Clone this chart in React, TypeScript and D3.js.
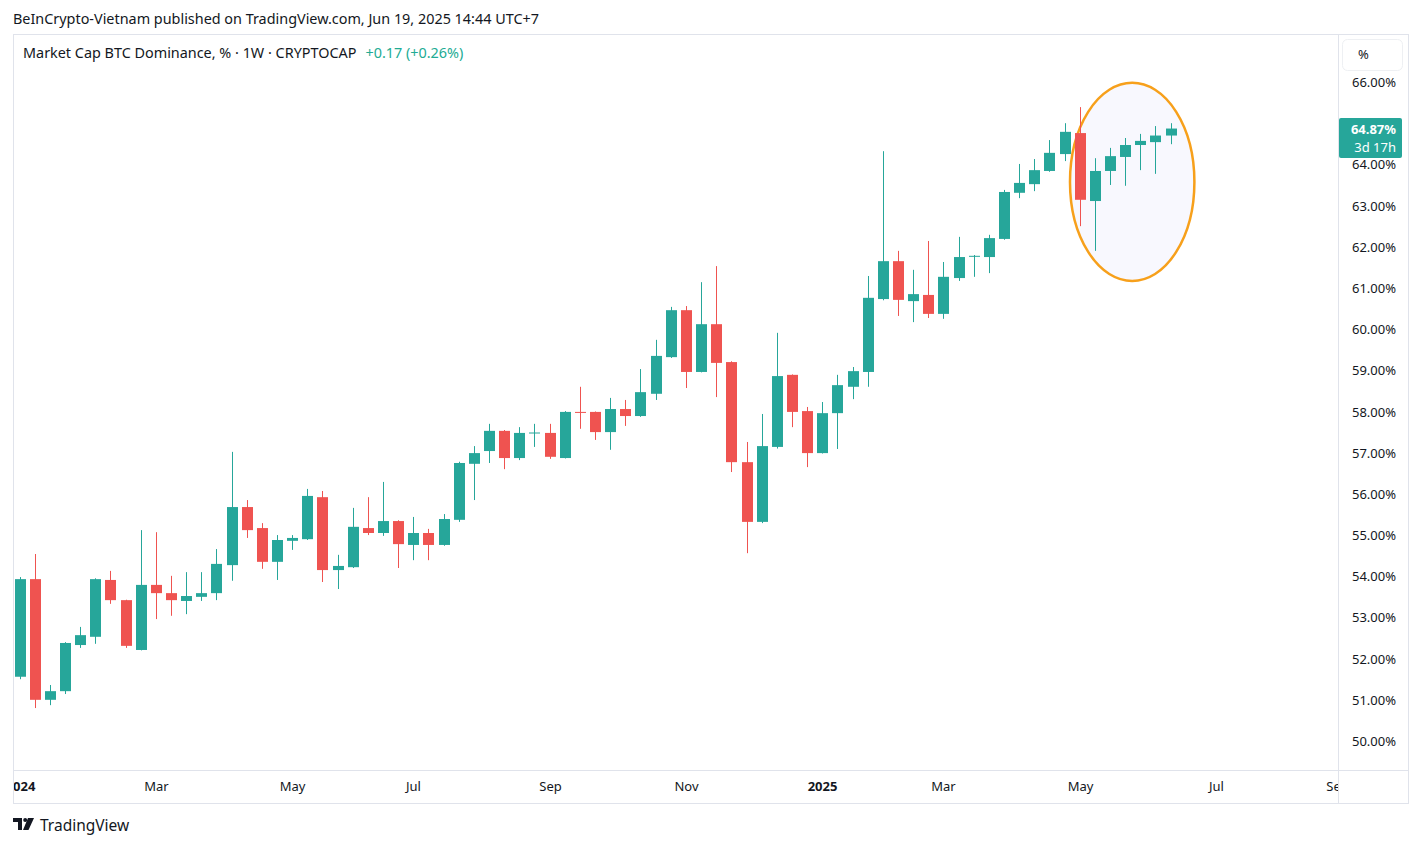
// D3.js — BTC Dominance weekly candles (TradingView style)
import React, { useEffect, useRef } from "react";
import * as d3 from "d3";

const firstWeek = "2024-01-01";
const lastWeek = "2025-06-16";

const opens = [
  51.56, 53.93, 51.0, 51.21, 52.33, 52.53, 53.91, 53.42, 52.21, 53.79,
  53.59, 53.4, 53.5, 53.59, 54.27, 55.68, 55.17, 54.35, 54.86, 54.9,
  55.92, 54.15, 54.22, 55.17, 55.05, 55.34, 54.76, 55.05, 54.76, 55.37,
  56.73, 57.04, 57.53, 56.87, 57.47, 57.48, 56.87, 57.99, 57.99, 57.5,
  58.06, 57.89, 58.43, 59.32, 60.46, 58.96, 60.12, 59.2, 56.77, 55.32,
  57.14, 58.89, 58.01, 56.99, 57.96, 58.6, 58.96, 60.73, 61.65, 60.68,
  60.83, 60.37, 61.24, 61.77, 61.75, 62.19, 63.31, 63.52, 63.84, 64.25,
  64.76, 63.11, 63.84, 64.18, 64.47, 64.54, 64.7,
];
const highs = [
  53.98, 54.54, 51.36, 52.4, 52.77, 53.95, 54.13, 53.43, 55.12, 55.07,
  54.01, 54.1, 54.1, 54.66, 57.02, 55.85, 55.29, 55.0, 55.0, 56.12,
  56.07, 54.52, 55.66, 55.92, 56.29, 55.36, 55.44, 55.15, 55.51, 56.78,
  57.16, 57.7, 57.55, 57.62, 57.7, 57.7, 58.01, 58.6, 58.0, 58.33,
  58.28, 59.03, 59.74, 60.54, 60.56, 61.14, 61.53, 59.22, 57.26, 57.94,
  59.91, 58.9, 58.11, 58.23, 58.89, 59.08, 61.29, 64.32, 61.9, 61.44,
  62.14, 61.63, 62.24, 61.8, 62.29, 63.38, 64.01, 64.13, 64.59, 65.0,
  65.39, 64.15, 64.4, 64.64, 64.74, 64.93, 65.0,
];
const lows = [
  51.5, 50.8, 50.87, 51.14, 52.26, 52.36, 53.33, 52.26, 52.2, 52.96,
  53.04, 53.08, 53.4, 53.42, 53.89, 54.93, 54.18, 53.91, 54.64, 54.88,
  53.86, 53.69, 54.2, 55.0, 54.98, 54.2, 54.39, 54.39, 54.74, 55.32,
  55.85, 56.75, 56.6, 56.82, 57.14, 56.85, 56.86, 57.58, 57.31, 57.07,
  57.65, 57.87, 58.28, 59.3, 58.57, 58.95, 58.35, 56.53, 54.56, 55.29,
  57.1, 57.62, 56.65, 56.98, 57.09, 58.3, 58.6, 60.7, 60.32, 60.17,
  60.27, 60.25, 61.17, 61.27, 61.36, 62.17, 63.18, 63.35, 63.82, 64.08,
  62.5, 61.9, 63.5, 63.48, 63.86, 63.77, 64.49,
];
const closes = [
  53.93, 51.0, 51.21, 52.38, 52.57, 53.93, 53.42, 52.31, 53.79, 53.59,
  53.42, 53.52, 53.59, 54.3, 55.68, 55.12, 54.35, 54.88, 54.93, 55.95,
  54.15, 54.25, 55.2, 55.05, 55.34, 54.78, 55.05, 54.76, 55.39, 56.75,
  56.99, 57.53, 56.87, 57.48, 57.49, 56.9, 57.99, 57.98, 57.5, 58.06,
  57.89, 58.47, 59.35, 60.46, 58.96, 60.12, 59.18, 56.77, 55.32, 57.16,
  58.86, 57.99, 56.99, 57.96, 58.64, 58.98, 60.76, 61.65, 60.71, 60.85,
  60.37, 61.27, 61.75, 61.78, 62.21, 63.33, 63.55, 63.86, 64.28, 64.79,
  63.14, 63.84, 64.2, 64.47, 64.57, 64.7, 64.87,
];

const priceTicks = [50, 51, 52, 53, 54, 55, 56, 57, 58, 59, 60, 61, 62, 63, 64, 65, 66];
const monthStarts = [
  "2024-01-01", "2024-03-01", "2024-05-01", "2024-07-01", "2024-09-01", "2024-11-01",
  "2025-01-01", "2025-03-01", "2025-05-01", "2025-07-01", "2025-09-01",
];
const monthLabels = ["2024", "Mar", "May", "Jul", "Sep", "Nov", "2025", "Mar", "May", "Jul", "Sep"];

// highlighted zone (ellipse drawn on the chart)
const zoneStart = "2025-04-30T12:00:00Z";
const zoneEnd = "2025-06-27T00:00:00Z";
const zoneLow = 61.17;
const zoneHigh = 65.98;

const lastValue = 64.87;
const changeText = "+0.17 (+0.26%)";

const UP = "#26a69a";
const DOWN = "#ef5350";
const TEXT = "#131722";
const BORDER = "#e0e3eb";
const FONT = "'Noto Sans', 'DejaVu Sans', sans-serif";

const W = 1421;
const H = 847;

const App: React.FC = () => {
  const svgRef = useRef<SVGSVGElement>(null);

  useEffect(() => {
    if (!svgRef.current) return;
    const svg = d3.select(svgRef.current);
    svg.selectAll("*").remove();

    const pane = { left: 13, right: 1338, top: 34, bottom: 770 };
    const frameRight = 1408;
    const frameBottom = 803;

    const weeks = d3.utcMonday.range(new Date(firstWeek), d3.utcDay.offset(new Date(lastWeek), 1));
    const candles = weeks.map((date, i) => ({
      date, open: opens[i], high: highs[i], low: lows[i], close: closes[i],
    }));

    const x = d3.scaleUtc()
      .domain([new Date(firstWeek), new Date(lastWeek)])
      .range([19.5, 1170.6]);

    const y = d3.scaleLinear().domain([50, 66]).range([741, 82]);

    svg.append("rect").attr("width", W).attr("height", H).attr("fill", "#ffffff");

    // header
    svg.append("text")
      .attr("x", 13).attr("y", 24)
      .attr("font-family", FONT).attr("font-size", 14.4).attr("fill", TEXT)
      .text("BeInCrypto-Vietnam published on TradingView.com, Jun 19, 2025 14:44 UTC+7");

    // frame
    svg.append("rect")
      .attr("x", pane.left + 0.5).attr("y", pane.top + 0.5)
      .attr("width", frameRight - pane.left).attr("height", frameBottom - pane.top)
      .attr("fill", "none").attr("stroke", BORDER);
    svg.append("line")
      .attr("x1", pane.left).attr("x2", frameRight)
      .attr("y1", pane.bottom + 0.5).attr("y2", pane.bottom + 0.5)
      .attr("stroke", BORDER);
    svg.append("line")
      .attr("x1", pane.right + 0.5).attr("x2", pane.right + 0.5)
      .attr("y1", pane.top).attr("y2", frameBottom)
      .attr("stroke", BORDER);

    const defs = svg.append("defs");
    defs.append("clipPath").attr("id", "pane-clip")
      .append("rect")
      .attr("x", pane.left + 1).attr("y", pane.top + 1)
      .attr("width", pane.right - pane.left - 1).attr("height", pane.bottom - pane.top - 1);
    defs.append("clipPath").attr("id", "time-clip")
      .append("rect")
      .attr("x", pane.left + 1).attr("y", pane.bottom + 1)
      .attr("width", pane.right - pane.left - 1).attr("height", frameBottom - pane.bottom - 1);

    const plot = svg.append("g").attr("clip-path", "url(#pane-clip)");

    // ellipse annotation (behind candles)
    const ex0 = x(new Date(zoneStart));
    const ex1 = x(new Date(zoneEnd));
    const ey0 = y(zoneHigh);
    const ey1 = y(zoneLow);
    plot.append("ellipse")
      .attr("cx", (ex0 + ex1) / 2).attr("cy", (ey0 + ey1) / 2)
      .attr("rx", (ex1 - ex0) / 2).attr("ry", (ey1 - ey0) / 2)
      .attr("fill", "rgba(240,240,252,0.45)")
      .attr("stroke", "#f7a01b").attr("stroke-width", 2.5);

    // candles
    const bodyW = 11;
    const g = plot.selectAll("g.candle").data(candles).join("g").attr("class", "candle");
    g.append("line")
      .attr("x1", d => Math.round(x(d.date)) + 0.5)
      .attr("x2", d => Math.round(x(d.date)) + 0.5)
      .attr("y1", d => y(d.high)).attr("y2", d => y(d.low))
      .attr("stroke", d => (d.close >= d.open ? UP : DOWN)).attr("stroke-width", 1);
    g.append("rect")
      .attr("x", d => Math.round(x(d.date)) + 0.5 - bodyW / 2)
      .attr("width", bodyW)
      .attr("y", d => y(Math.max(d.open, d.close)))
      .attr("height", d => Math.max(1, Math.abs(y(d.open) - y(d.close))))
      .attr("fill", d => (d.close >= d.open ? UP : DOWN));

    // legend
    const legend = svg.append("text")
      .attr("x", 23).attr("y", 58)
      .attr("font-family", FONT).attr("font-size", 14.4).attr("fill", TEXT);
    legend.append("tspan").text("Market Cap BTC Dominance, % · 1W · CRYPTOCAP");
    legend.append("tspan").attr("dx", 9).attr("fill", "#22ab94").text(changeText);

    // price axis
    svg.append("rect")
      .attr("x", 1342.5).attr("y", 39.5).attr("width", 60).attr("height", 31).attr("rx", 5)
      .attr("fill", "#ffffff").attr("stroke", "#eef0f3");
    svg.append("text")
      .attr("x", 1358).attr("y", 59)
      .attr("font-family", FONT).attr("font-size", 13).attr("fill", TEXT).text("%");

    const ly = y(lastValue);
    const labelTop = ly - 10.5;

    // the tick hidden by the last-value label only peeks out above it
    defs.append("clipPath").attr("id", "tick-clip")
      .append("rect").attr("x", 1339).attr("y", 0).attr("width", 70).attr("height", labelTop);

    svg.append("g").selectAll("text").data(priceTicks).join("text")
      .attr("x", 1396).attr("y", d => y(d) + 5)
      .attr("text-anchor", "end")
      .attr("font-family", FONT).attr("font-size", 13).attr("fill", TEXT)
      .attr("clip-path", d => (Math.abs(y(d) - ly) < 22 ? "url(#tick-clip)" : null))
      .text(d => `${d.toFixed(2)}%`);

    // last value label
    svg.append("rect")
      .attr("x", 1339).attr("y", labelTop).attr("width", 63).attr("height", 40).attr("rx", 2)
      .attr("fill", UP);
    svg.append("text")
      .attr("x", 1396).attr("y", ly + 5.5).attr("text-anchor", "end")
      .attr("font-family", FONT).attr("font-size", 13).attr("font-weight", 700).attr("fill", "#ffffff")
      .text(`${lastValue.toFixed(2)}%`);
    svg.append("text")
      .attr("x", 1396).attr("y", ly + 23.5).attr("text-anchor", "end")
      .attr("font-family", FONT).attr("font-size", 13).attr("fill", "#ffffff")
      .text("3d 17h");

    // time axis
    svg.append("g").attr("clip-path", "url(#time-clip)")
      .selectAll("text").data(monthStarts).join("text")
      .attr("x", d => Math.round(x(d3.utcMonday.ceil(new Date(d)))) + 0.5)
      .attr("y", 791)
      .attr("text-anchor", "middle")
      .attr("font-family", FONT).attr("font-size", 13).attr("fill", TEXT)
      .attr("font-weight", (_, i) => (monthLabels[i].length === 4 ? 700 : 400))
      .text((_, i) => monthLabels[i]);

    // footer logo
    const logo = svg.append("g").attr("transform", "translate(13,818)").attr("fill", TEXT);
    logo.append("path").attr("d", "M0 0 H9 V12 H5 V4 H0 Z");
    logo.append("circle").attr("cx", 12.2).attr("cy", 2).attr("r", 2);
    logo.append("path").attr("d", "M15 0 H21 L15.5 12 H10 Z");
    svg.append("text")
      .attr("x", 40).attr("y", 831)
      .attr("font-family", FONT).attr("font-size", 15.5).attr("fill", TEXT)
      .text("TradingView");
  }, []);

  return (
    <div style={{ position: "absolute", left: 0, top: 0, width: W, height: H }}>
      <svg ref={svgRef} width={W} height={H} style={{ display: "block" }} />
    </div>
  );
};

export default App;
